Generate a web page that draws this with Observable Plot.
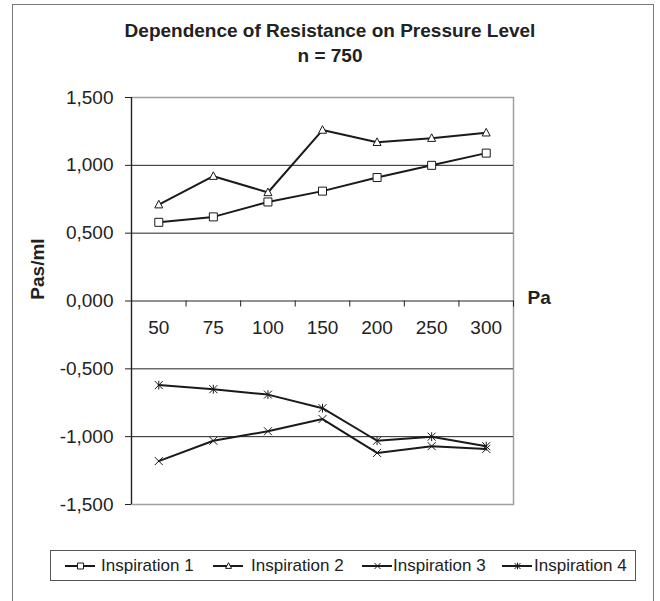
<!DOCTYPE html>
<html><head><meta charset="utf-8">
<script src="https://cdn.jsdelivr.net/npm/d3@7"></script>
<script src="https://cdn.jsdelivr.net/npm/@observablehq/plot@0.6"></script>
<style>
body{margin:0;background:#fff;font-family:"Liberation Sans",Arial,sans-serif;color:#222}
#wrap{position:relative;width:660px;height:601px;overflow:hidden;background:#fff}
#border{position:absolute;left:12px;top:4px;width:642px;height:610px;border:1.5px solid #7a7a7a;box-sizing:border-box}
#title{position:absolute;left:0;width:660px;top:18px;text-align:center;font-weight:bold;font-size:19px;line-height:25px;color:#222}
#chart{position:absolute;left:0;top:0}
#ylabel{position:absolute;left:38px;top:269px;transform:translate(-50%,-50%) rotate(-90deg);font-weight:bold;font-size:19px;white-space:nowrap;color:#222}
#legend{position:absolute;left:50px;top:550px;width:586px;height:31px;border:1px solid #555;box-sizing:border-box}
.item{position:absolute;top:0;height:29px;display:flex;align-items:center;font-size:17px;white-space:nowrap}
.item svg{display:block}
</style>
</head><body>
<div id="wrap">
  <div id="border"></div>
  <div id="title">Dependence of Resistance on Pressure Level<br>n = 750</div>
  <div id="chart"></div>
  <div id="ylabel">Pas/ml</div>
  <div id="legend"></div>
</div>
<script>
const categories = ["50", "75", "100", "150", "200", "250", "300"];
const seriesNames = ["Inspiration 1", "Inspiration 2", "Inspiration 3", "Inspiration 4"];
const inspiration1 = [0.58, 0.62, 0.73, 0.81, 0.91, 1.00, 1.09];
const inspiration2 = [0.71, 0.92, 0.80, 1.26, 1.17, 1.20, 1.24];
const inspiration3 = [-1.18, -1.03, -0.96, -0.87, -1.12, -1.07, -1.09];
const inspiration4 = [-0.62, -0.65, -0.69, -0.79, -1.03, -1.00, -1.07];
const yTicks = [-1.5, -1.0, -0.5, 0, 0.5, 1.0, 1.5];
const xLabel = "Pa";

const seriesValues = [inspiration1, inspiration2, inspiration3, inspiration4];
const rows = [];
seriesValues.forEach((vals, s) => vals.forEach((v, i) => rows.push({series: seriesNames[s], idx: i, cat: categories[i], value: v})));
const boundaries = d3.range(categories.length + 1);
const gridVals = yTicks.filter(t => t !== 0 && Math.abs(t) !== 1.5);

const fmt = d => (d < 0 ? "-" : "") + Math.abs(d).toFixed(3).replace(".", ",");

// custom marker symbols
const timesSym = {draw(ctx, size){ const r = Math.sqrt(size / Math.PI); ctx.moveTo(-r,-r); ctx.lineTo(r,r); ctx.moveTo(r,-r); ctx.lineTo(-r,r); }};
const starSym = {draw(ctx, size){ const r = Math.sqrt(size / Math.PI); ctx.moveTo(-r,-r); ctx.lineTo(r,r); ctx.moveTo(r,-r); ctx.lineTo(-r,r); ctx.moveTo(0,-r*1.1); ctx.lineTo(0,r*1.1); }};
const squareSym = {draw(ctx, size){ const r = Math.sqrt(size / Math.PI); ctx.rect(-r,-r,2*r,2*r); }};
const triSym = {draw(ctx, size){ const r = Math.sqrt(size / Math.PI); ctx.moveTo(0,-r*1.1); ctx.lineTo(r,r*0.8); ctx.lineTo(-r,r*0.8); ctx.closePath(); }};
const symbols = {"Inspiration 1": squareSym, "Inspiration 2": triSym, "Inspiration 3": timesSym, "Inspiration 4": starSym};
const fills = {"Inspiration 1": "white", "Inspiration 2": "white", "Inspiration 3": "none", "Inspiration 4": "none"};

const plot = Plot.plot({
  width: 660, height: 545,
  marginLeft: 131, marginRight: 147, marginTop: 97, marginBottom: 41,
  x: {type: "linear", domain: [0, categories.length], axis: null},
  y: {domain: [yTicks[0], yTicks[yTicks.length - 1]], axis: null},
  style: {fontFamily: "'Liberation Sans', Arial, sans-serif", fontSize: "19px", color: "#222", background: "transparent", overflow: "visible"},
  marks: [
    Plot.frame({stroke: "#a0a0a0", strokeWidth: 1.5}),
    Plot.ruleY(gridVals, {y: d => d, stroke: "#222", strokeWidth: 1}),
    Plot.ruleY([0], {y: d => d, stroke: "#222", strokeWidth: 1.2}),
    Plot.ruleX(boundaries, {x: d => d, y1: d => 0, y2: d => 0, insetBottom: -6, stroke: "#222", strokeWidth: 1}),
    Plot.ruleX([0], {x: d => d, stroke: "#222", strokeWidth: 1.2}),
    Plot.axisY({ticks: yTicks, tickSize: 6, tickPadding: 12, tickFormat: fmt, label: null, fontSize: 19, stroke: "#222", color: "#222"}),
    Plot.text(categories, {x: (d, i) => i + 0.5, y: d => 0, dy: 27, text: d => d, fontSize: 19, fill: "#222"}),
    Plot.text([xLabel], {x: d => categories.length, y: d => 0, dx: 14, dy: -3, text: d => d, textAnchor: "start", fontWeight: "bold", fontSize: 19, fill: "#222"}),
    Plot.line(rows, {x: d => d.idx + 0.5, y: "value", z: "series", stroke: "#1a1a1a", strokeWidth: 2}),
    ...seriesNames.map(s => Plot.dot(rows.filter(r => r.series === s), {x: d => d.idx + 0.5, y: "value", symbol: () => symbols[s], r: 4, stroke: "#1a1a1a", strokeWidth: 1, fill: fills[s]}))
  ]
});
document.getElementById("chart").appendChild(plot);

// legend
const legendPos = [[14, 50], [162, 200], [311, 342], [451, 483]];
const legend = document.getElementById("legend");
seriesNames.forEach((s, k) => {
  const sw = Plot.plot({
    width: 30, height: 29, margin: 0,
    x: {domain: [0, 1], axis: null}, y: {domain: [0, 1], axis: null},
    style: {background: "transparent", overflow: "visible"},
    marks: [
      Plot.ruleY([0.5], {y: d => d, stroke: "#1a1a1a", strokeWidth: 2}),
      Plot.dot([0.5], {x: d => d, y: d => 0.5, symbol: () => symbols[s], r: 3, stroke: "#1a1a1a", strokeWidth: 1, fill: fills[s]})
    ]
  });
  const a = document.createElement("div"); a.className = "item"; a.style.left = legendPos[k][0] + "px"; a.appendChild(sw);
  const t = document.createElement("div"); t.className = "item"; t.style.left = legendPos[k][1] + "px"; t.textContent = s;
  legend.appendChild(a); legend.appendChild(t);
});
</script>
</body></html>
